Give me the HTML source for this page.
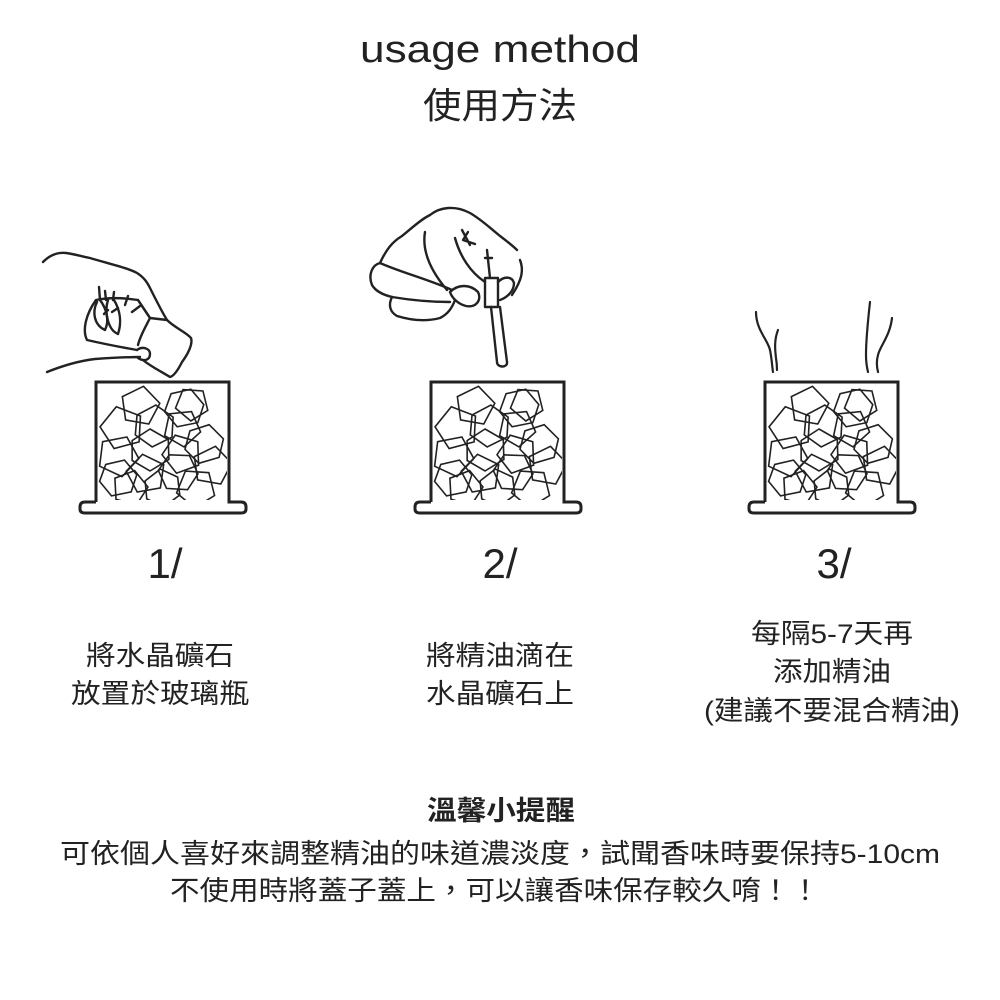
<!DOCTYPE html>
<html><head><meta charset="utf-8"><style>
html,body{margin:0;padding:0;background:#fff}
svg{display:block}
text{font-family:"Liberation Sans","Noto Sans CJK TC",sans-serif;fill:#222}
</style></head><body>
<svg width="1000" height="1000" viewBox="0 0 1000 1000" xmlns="http://www.w3.org/2000/svg">
<defs>
<polygon id="p" points="0,-1 0.951,-0.309 0.588,0.809 -0.588,0.809 -0.951,-0.309" fill="none" stroke="#222" stroke-width="1.6" vector-effect="non-scaling-stroke"/>
<polygon id="h" points="0,-1 0.87,-0.5 0.9,0.45 0,1 -0.85,0.5 -0.85,-0.45" fill="none" stroke="#222" stroke-width="1.6" vector-effect="non-scaling-stroke"/>
<clipPath id="cj"><rect x="2" y="2" width="129" height="116"/></clipPath>
<g id="jar">
<path d="M0,120 L0,0 L133,0 L133,120 L145,120 Q150,120 150,125 L150,127 Q150,131 145,131 L-11,131 Q-16,131 -16,127 L-16,125 Q-16,120 -11,120 L0,120" fill="none" stroke="#222" stroke-width="3"/>
<g clip-path="url(#cj)">
<use href="#p" transform="translate(44,24) rotate(10) scale(20)"/>
<use href="#h" transform="translate(88,26) rotate(20) scale(20)"/>
<use href="#p" transform="translate(96,22) rotate(40) scale(17)"/>
<use href="#p" transform="translate(26,46) rotate(-15) scale(22)"/>
<use href="#h" transform="translate(58,44) rotate(5) scale(21)"/>
<use href="#p" transform="translate(86,46) rotate(30) scale(19)"/>
<use href="#h" transform="translate(108,62) rotate(15) scale(20)"/>
<use href="#p" transform="translate(22,74) rotate(25) scale(21)"/>
<use href="#h" transform="translate(54,68) rotate(0) scale(21)"/>
<use href="#p" transform="translate(86,72) rotate(-20) scale(20)"/>
<use href="#p" transform="translate(116,84) rotate(10) scale(20)"/>
<use href="#h" transform="translate(22,96) rotate(20) scale(19)"/>
<use href="#p" transform="translate(50,92) rotate(-10) scale(20)"/>
<use href="#h" transform="translate(82,90) rotate(35) scale(20)"/>
<use href="#p" transform="translate(34,106) rotate(15) scale(18)"/>
<use href="#h" transform="translate(66,106) rotate(-5) scale(19)"/>
<use href="#p" transform="translate(100,106) rotate(40) scale(20)"/>
</g>
</g>
</defs>

<text x="500" y="62" font-size="38" text-anchor="middle" textLength="280" lengthAdjust="spacingAndGlyphs">usage method</text>
<text x="500" y="118" font-size="36" text-anchor="middle" textLength="154" lengthAdjust="spacingAndGlyphs">使用方法</text>

<use href="#jar" transform="translate(96,382)"/>
<use href="#jar" transform="translate(431,382)"/>
<use href="#jar" transform="translate(765,382)"/>

<!-- hand 1 -->
<g fill="none" stroke="#222" stroke-width="2.4" stroke-linecap="round" stroke-linejoin="round">
<path d="M43,262 C50,255 58,252 66,253 C74,254 80,256 90,258 C110,264 128,268 137,273 C145,278 148,284 150,288 C156,300 162,312 167,320 C175,328 186,332 191,338 C193,344 188,354 182,362 C178,370 174,376 170,377 C162,372 150,366 143,360"/>
<path d="M47,372 C62,366 78,361 95,359 C110,358 125,357 140,357"/>
<path d="M137,350 C142,346 150,348 150,354 C150,360 144,362 138,358"/>
<path d="M137,350 C120,347 100,343 87,340 C82,330 86,314 96,300 C110,297 125,298 138,300 L150,318 C146,326 140,336 138,345"/>
<path d="M97,302 C92,312 94,325 105,330 C110,320 106,308 100,300"/>
<path d="M108,300 C104,312 108,330 118,334 C122,322 120,310 114,300"/>
<path d="M99,287 L100,300 M105,291 L106,300 M114,292 L113,300 M128,296 L125,305 M140,306 L132,312 M118,308 L112,312 M108,310 L104,314"/>
<path d="M138,300 L150,318 L167,320"/>
</g>

<!-- hand 2 -->
<g fill="none" stroke="#222" stroke-width="2.4" stroke-linecap="round" stroke-linejoin="round">
<path d="M380,263 C386,250 392,242 402,236 C412,228 420,220 430,215 C440,207 455,205 470,213 C482,220 490,228 500,236 C508,242 513,246 517,250"/>
<path d="M520,260 C524,270 522,280 512,295"/>
<path d="M380,263 C372,265 368,275 372,285 C376,292 384,295 392,297"/>
<path d="M392,297 C388,305 390,312 397,316 C410,320 425,322 440,318 C448,314 452,308 455,300"/>
<path d="M380,263 C400,272 430,280 452,290"/>
<path d="M392,297 C410,300 430,302 450,302"/>
<path d="M425,232 C422,250 430,270 447,290"/>
<path d="M455,238 C460,256 470,272 485,282"/>
<path d="M462,230 L470,245 M468,232 L463,240 L475,244"/>
<path d="M487,250 L490,278 M485,258 L492,258"/>
<path d="M450,292 C458,284 470,284 478,292 C482,300 476,308 466,306 C458,304 452,298 450,292"/>
<path d="M498,282 C504,276 512,276 514,283 C514,292 506,298 500,300"/>
<rect x="485" y="278" width="13" height="29"/>
<path d="M491,307 L497,362 C497,368 508,368 507,362 L500,307"/>
</g>

<!-- steam -->
<g fill="none" stroke="#222" stroke-width="2.2" stroke-linecap="round">
<path d="M756,312 C756,330 768,340 770,350 C772,360 772,366 773,372"/>
<path d="M778,330 C774,340 775,350 776,358 C777,364 777,367 777,370"/>
<path d="M870,302 C868,320 866,340 866,355 C866,362 867,368 868,372"/>
<path d="M892,318 C890,336 880,346 878,355 C876,362 877,368 878,372"/>
</g>

<text x="165" y="578" font-size="42" text-anchor="middle">1/</text>
<text x="500" y="578" font-size="42" text-anchor="middle">2/</text>
<text x="834" y="578" font-size="42" text-anchor="middle">3/</text>

<g font-size="27">
<text x="160" y="665" text-anchor="middle" textLength="148" lengthAdjust="spacingAndGlyphs">將水晶礦石</text>
<text x="160" y="703" text-anchor="middle" textLength="178" lengthAdjust="spacingAndGlyphs">放置於玻璃瓶</text>
<text x="500" y="665" text-anchor="middle" textLength="148" lengthAdjust="spacingAndGlyphs">將精油滴在</text>
<text x="500" y="703" text-anchor="middle" textLength="148" lengthAdjust="spacingAndGlyphs">水晶礦石上</text>
<text x="832" y="643" text-anchor="middle" textLength="162" lengthAdjust="spacingAndGlyphs">每隔5-7天再</text>
<text x="832" y="681" text-anchor="middle" textLength="118" lengthAdjust="spacingAndGlyphs">添加精油</text>
<text x="832" y="720" text-anchor="middle" textLength="256" lengthAdjust="spacingAndGlyphs">(建議不要混合精油)</text>
<text x="501" y="820" text-anchor="middle" font-weight="bold" textLength="148" lengthAdjust="spacingAndGlyphs">溫馨小提醒</text>
<text x="500" y="863" text-anchor="middle" textLength="880" lengthAdjust="spacingAndGlyphs">可依個人喜好來調整精油的味道濃淡度，試聞香味時要保持5-10cm</text>
<text x="495" y="900" text-anchor="middle" textLength="650" lengthAdjust="spacingAndGlyphs">不使用時將蓋子蓋上，可以讓香味保存較久唷！！</text>
</g>
</svg>
</body></html>
